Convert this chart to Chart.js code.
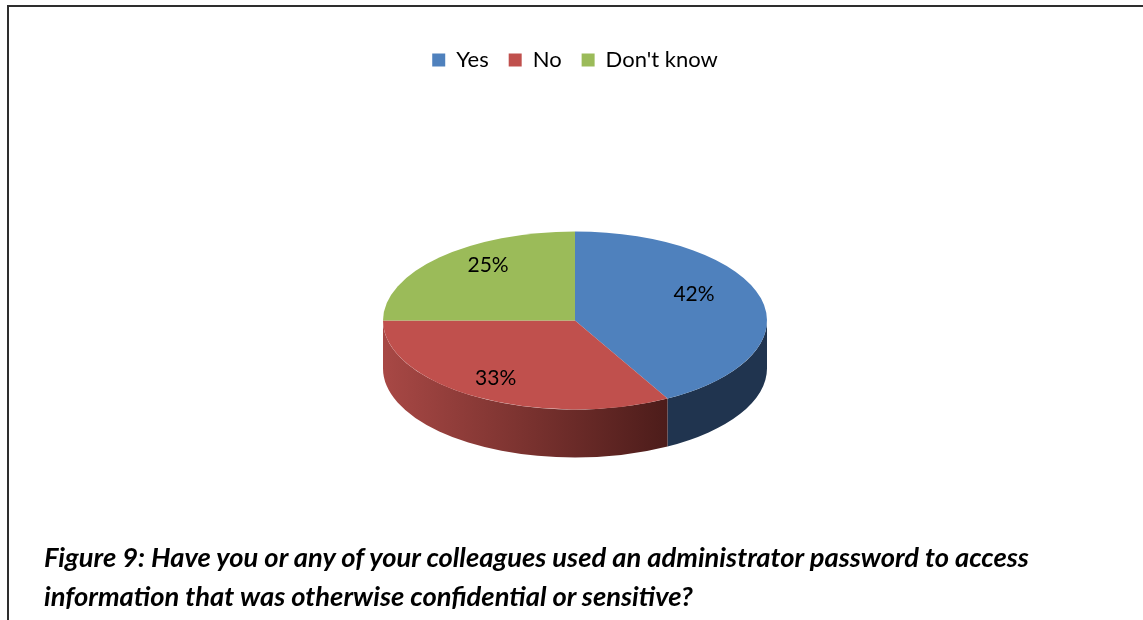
<!DOCTYPE html>
<html>
<head>
<meta charset="utf-8">
<script src="https://cdn.jsdelivr.net/npm/chart.js@4.4.1/dist/chart.umd.min.js"></script>
<style>
  html, body { margin: 0; padding: 0; background: #fff; }
  body { width: 1143px; height: 620px; position: relative; overflow: hidden; font-family: Lato, "Open Sans", sans-serif; }
  #frame { position: absolute; left: 7px; top: 5px; width: 1200px; height: 700px;
           border-top: 2px solid #2e2e2e; border-left: 2px solid #2e2e2e; box-sizing: border-box; }
  #wrap { position: absolute; left: 8px; top: 0; width: 1134px; height: 620px; }
  #caption { position: absolute; left: 44px; top: 537px; font-weight: bold; font-style: italic;
             color: #000; line-height: 39px; white-space: nowrap; }
</style>
</head>
<body>
<div id="frame"></div>
<div id="wrap"><canvas id="c"></canvas></div>
<div id="caption"><div id="cap1">Figure 9: Have you or any of your colleagues used an administrator password to access</div><div>information that was otherwise confidential or sensitive?</div></div>
<script>
// Survey answers (percent of respondents)
const categories = ["Yes", "No", "Don't know"];
const values = [42, 33, 25];
const topColors = ["#4F81BD", "#C0504D", "#9BBB59"];

// Tilt of the pie: vertical squash of the top face and thickness of the side wall
const tilt = 89 / 192;
const depth = 48;

// Side wall painters per slice
function wallFill(ctx, i, cx, R) {
  if (i === 1) {
    const g = ctx.createLinearGradient(cx - R, 0, cx + R * 0.52, 0);
    g.addColorStop(0, "#A84845");
    g.addColorStop(0.45, "#7E3431");
    g.addColorStop(1, "#4A1B19");
    return g;
  }
  if (i === 0) return "#20344F";
  return "#6E8640";
}

const pie3d = {
  id: "pie3d",
  beforeDatasetsDraw(chart) {
    const ctx = chart.ctx;
    const arcs = chart.getDatasetMeta(0).data;
    const cx = arcs[0].x, cy = arcs[0].y, R = arcs[0].outerRadius;
    const ry = R * tilt;
    // near side of the cylinder wall lies between angles 0 and PI
    arcs.forEach((arc, i) => {
      const a1 = arc.startAngle, a2 = arc.endAngle;
      const norm = a => { while (a < -Math.PI) a += 2 * Math.PI; while (a > Math.PI) a -= 2 * Math.PI; return a; };
      const s = norm(a1);
      const e = s + (a2 - a1);
      const lo = Math.max(s, 0), hi = Math.min(e, Math.PI);
      if (hi <= lo) return;
      ctx.save();
      ctx.beginPath();
      ctx.ellipse(cx, cy, R, ry, 0, lo, hi, false);
      ctx.ellipse(cx, cy + depth, R, ry, 0, hi, lo, true);
      ctx.closePath();
      ctx.fillStyle = wallFill(ctx, i, cx, R);
      ctx.fill();
      ctx.restore();
    });
    ctx.save();
    ctx.translate(cx, cy);
    ctx.scale(1, tilt);
    ctx.translate(-cx, -cy);
  },
  afterDatasetsDraw(chart) {
    const ctx = chart.ctx;
    ctx.restore();
    const arcs = chart.getDatasetMeta(0).data;
    const data = chart.data.datasets[0].data;
    const total = data.reduce((a, b) => a + b, 0);
    ctx.save();
    ctx.font = "21px Lato";
    ctx.fillStyle = "#000";
    ctx.textAlign = "center";
    ctx.textBaseline = "middle";
    arcs.forEach((arc, i) => {
      const mid = (arc.startAngle + arc.endAngle) / 2;
      const sn = Math.sin(mid);
      // labels on the near side sit a little further out
      const r = arc.outerRadius * (0.64 + 0.2 * Math.max(0, sn));
      const x = arc.x + r * Math.cos(mid);
      const y = arc.y + r * tilt * sn * 1.1 - 11;
      ctx.fillText(Math.round(data[i] / total * 100) + "%", x, y);
    });
    ctx.restore();
  }
};

new Chart(document.getElementById("c"), {
  type: "pie",
  data: {
    labels: categories,
    datasets: [{
      data: values,
      backgroundColor: topColors,
      borderWidth: 0,
      radius: 192,
      clip: false
    }]
  },
  options: {
    responsive: true,
    maintainAspectRatio: false,
    animation: false,
    events: [],
    layout: { padding: { top: 29, bottom: 60 } },
    plugins: {
      legend: {
        position: "top",
        labels: {
          boxWidth: 13, boxHeight: 13, padding: 20, color: "#000",
          font: { family: "Lato", size: 22 }
        }
      },
      tooltip: { enabled: false }
    }
  },
  plugins: [pie3d]
});

// Fit the caption to its line width
(function () {
  const cap = document.getElementById("caption");
  const c = document.createElement("canvas").getContext("2d");
  c.font = "italic bold 24px Lato";
  const w = c.measureText(document.getElementById("cap1").textContent).width;
  cap.style.fontSize = (24 * 989 / w).toFixed(2) + "px";
})();
</script>
</body>
</html>
